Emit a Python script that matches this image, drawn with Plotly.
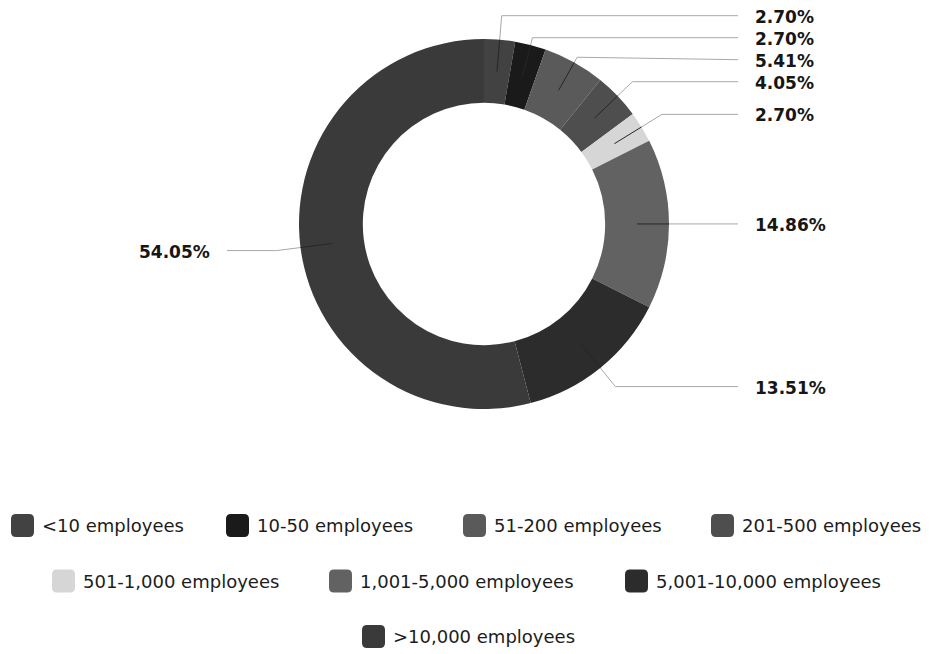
import math
import plotly.graph_objects as go

# ---- data -------------------------------------------------------------
categories = [
    "<10 employees",
    "10-50 employees",
    "51-200 employees",
    "201-500 employees",
    "501-1,000 employees",
    "1,001-5,000 employees",
    "5,001-10,000 employees",
    ">10,000 employees",
]
shares = [2.70, 2.70, 5.41, 4.05, 2.70, 14.86, 13.51, 54.05]
share_labels = [f"{v:.2f}%" for v in shares]
colors = ["#424242", "#1a1a1a", "#5a5a5a", "#4e4e4e",
          "#d6d6d6", "#626262", "#2c2c2c", "#3a3a3a"]

# ---- layout (pixels) --------------------------------------------------
W, H = 932, 654
CX, CY, R = 484, 224, 185
HOLE = 0.655
LABEL_R = 1.13 * R
LABEL_GAP = 22
RIGHT_LINE_END, RIGHT_TEXT_X = CX + 254, CX + 269
LEFT_LINE_END, LEFT_TEXT_X = CX - 257, CX - 272

LEGEND_ROWS_Y = [525.5, 581, 636.5]
LEGEND_ROWS = [[0, 1, 2, 3], [4, 5, 6], [7]]
LEGEND_SWATCH_X = [11, 226, 463, 711, 52, 329, 625, 362]
SWATCH = 23
SWATCH_RADIUS = 5
TEXT_OFFSET = 29

FONT = "DejaVu Sans"


def px(x):
    return x / W


def py(y):
    return 1 - y / H


fig = go.Figure(
    go.Pie(
        values=shares,
        labels=categories,
        marker=dict(colors=colors, line=dict(width=0)),
        hole=HOLE,
        sort=False,
        direction="clockwise",
        rotation=0,
        textinfo="none",
        hoverinfo="label+percent",
        showlegend=False,
        domain=dict(x=[px(CX - R), px(CX + R)], y=[py(CY + R), py(CY - R)]),
    )
)

# ---- outside labels with leader lines ---------------------------------
total = sum(shares)
cum = 0.0
items = []
for i, v in enumerate(shares):
    theta = 2 * math.pi * (cum + v / 2) / total
    cum += v
    dx, dy = math.sin(theta), -math.cos(theta)
    items.append(dict(i=i, dx=dx, dy=dy, side=1 if dx >= 0 else -1,
                      y=CY + LABEL_R * dy))

# push overlapping labels downwards on each side
for side in (1, -1):
    group = sorted([it for it in items if it["side"] == side], key=lambda it: it["y"])
    prev = None
    for it in group:
        if prev is not None and it["y"] < prev + LABEL_GAP:
            it["y"] = prev + LABEL_GAP
        prev = it["y"]

shapes = []
annotations = []
r_mid = R * (1 + HOLE) / 2
for it in items:
    dx, dy, side = it["dx"], it["dy"], it["side"]
    ax, ay = CX + r_mid * dx, CY + r_mid * dy
    rx, ry = CX + R * dx, CY + R * dy
    if abs(dy) > 1e-6:
        d = (it["y"] - CY) / dy
    else:
        d = R + 8
    d = max(d, R + 6)
    bx, by = CX + d * dx, CY + d * dy
    ex = RIGHT_LINE_END if side > 0 else LEFT_LINE_END
    ey = it["y"]
    shapes.append(dict(
        type="path", xref="paper", yref="paper",
        path=f"M {px(rx)},{py(ry)} L {px(bx)},{py(by)} L {px(ex)},{py(ey)}",
        line=dict(color="#a8a8a8", width=1),
    ))
    shapes.append(dict(
        type="path", xref="paper", yref="paper",
        path=f"M {px(ax)},{py(ay)} L {px(rx)},{py(ry)}",
        line=dict(color="#262626", width=1),
    ))
    annotations.append(dict(
        text=share_labels[it["i"]],
        x=px(RIGHT_TEXT_X if side > 0 else LEFT_TEXT_X),
        y=py(ey + 1),
        xref="paper", yref="paper",
        xanchor="left" if side > 0 else "right",
        yanchor="middle",
        showarrow=False,
        font=dict(family=FONT, size=17, color="#161616", weight="bold"),
    ))


# ---- legend -------------------------------------------------------------
def rounded_rect(x0, y0, x1, y1, r):
    pts = [
        ("M", [(x0 + r, y0)]),
        ("L", [(x1 - r, y0)]),
        ("Q", [(x1, y0), (x1, y0 + r)]),
        ("L", [(x1, y1 - r)]),
        ("Q", [(x1, y1), (x1 - r, y1)]),
        ("L", [(x0 + r, y1)]),
        ("Q", [(x0, y1), (x0, y1 - r)]),
        ("L", [(x0, y0 + r)]),
        ("Q", [(x0, y0), (x0 + r, y0)]),
    ]
    parts = []
    for cmd, coords in pts:
        parts.append(cmd + " " + " ".join(f"{px(x)},{py(y)}" for x, y in coords))
    return " ".join(parts) + " Z"


for row_y, row in zip(LEGEND_ROWS_Y, LEGEND_ROWS):
    for i in row:
        x0 = LEGEND_SWATCH_X[i]
        shapes.append(dict(
            type="path", xref="paper", yref="paper",
            path=rounded_rect(x0, row_y - SWATCH / 2, x0 + SWATCH, row_y + SWATCH / 2,
                              SWATCH_RADIUS),
            fillcolor=colors[i],
            line=dict(width=0),
        ))
        annotations.append(dict(
            text=categories[i],
            x=px(x0 + TEXT_OFFSET), y=py(row_y),
            xref="paper", yref="paper",
            xanchor="left", yanchor="middle",
            showarrow=False,
            font=dict(family=FONT, size=18, color="#1c1c1c"),
        ))

fig.update_layout(
    width=W, height=H,
    margin=dict(l=0, r=0, t=0, b=0),
    paper_bgcolor="white",
    plot_bgcolor="white",
    showlegend=False,
    shapes=shapes,
    annotations=annotations,
)

fig.write_html("out.html")
